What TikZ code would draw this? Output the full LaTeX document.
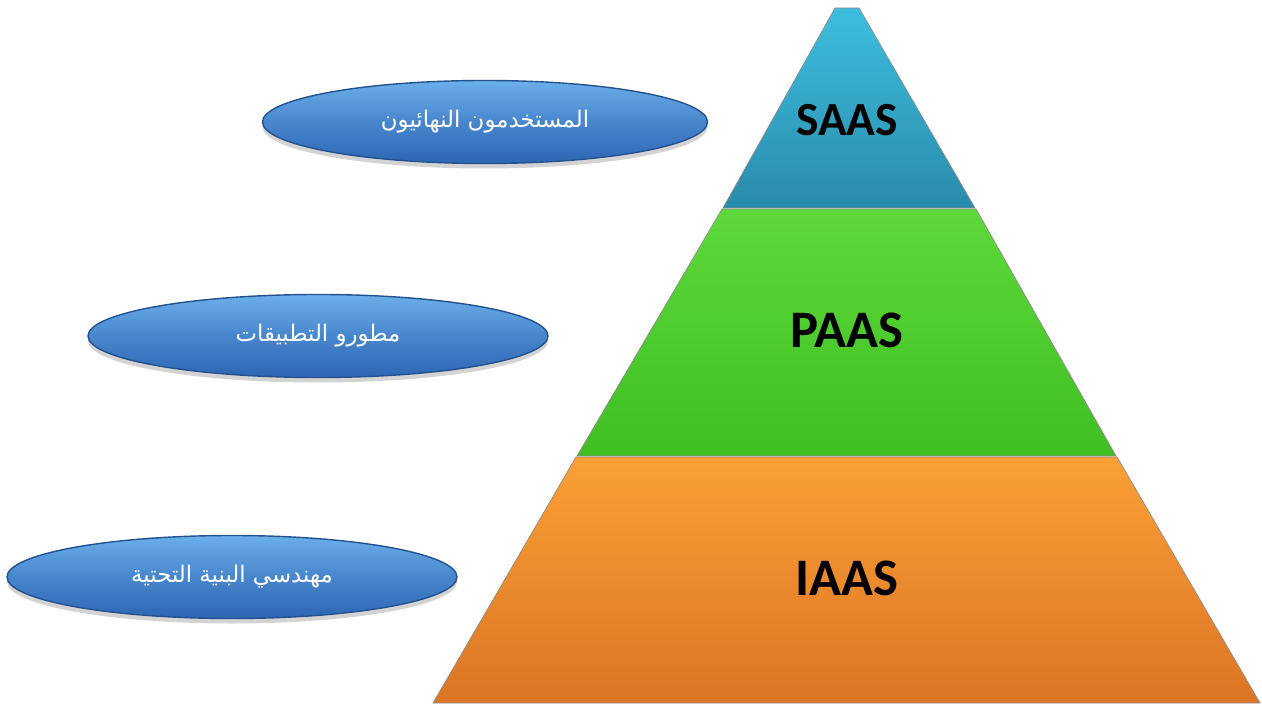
\documentclass[tikz,border=0pt]{standalone}
\usepackage{fontspec}
\setmainfont{Carlito}
\newfontfamily\arabicfont[Script=Arabic]{DejaVu Sans}
\TeXXeTstate=1
\usetikzlibrary{shapes.geometric, shadows}

\definecolor{saasTop}{HTML}{3DBEDF}
\definecolor{saasBot}{HTML}{2A8BAA}
\definecolor{paasTop}{HTML}{5ED83A}
\definecolor{paasBot}{HTML}{3FBF22}
\definecolor{iaasTop}{HTML}{FBA036}
\definecolor{iaasBot}{HTML}{DC7424}
\definecolor{roleTop}{HTML}{6AAEEA}
\definecolor{roleBot}{HTML}{2D66B4}

\tikzset{
  role/.style={ellipse, draw=roleBot!80!black, thin, top color=roleTop, bottom color=roleBot,
    middle color=roleBot!55!roleTop, minimum width=#1, minimum height=0.83cm, inner sep=0pt,
    text=white, font=\arabicfont\fontsize{6.5}{8}\selectfont,
    drop shadow={shadow xshift=0pt, shadow yshift=-0.05cm, opacity=0.35}},
  tier/.style={draw=black!45, very thin},
  tiertext/.style={font=\bfseries\fontsize{#1}{#1}\selectfont, text=black}
}

\begin{document}
\begin{tikzpicture}[x=1cm, y=1cm]

    \useasboundingbox (0,0) rectangle (12.62,-7.08);

    % top tier of the pyramid:
    \shade[tier, top color=saasTop, bottom color=saasBot] (8.35,-0.08) -- (8.59,-0.08) -- (9.75,-2.08) -- (7.23,-2.08) -- cycle;
    % middle tier:
    \shade[tier, top color=paasTop, bottom color=paasBot] (7.22,-2.09) -- (9.76,-2.09) -- (11.16,-4.56) -- (5.77,-4.56) -- cycle;
    % bottom tier:
    \shade[tier, top color=iaasTop, bottom color=iaasBot] (5.76,-4.57) -- (11.17,-4.57) -- (12.60,-7.03) -- (4.33,-7.03) -- cycle;

    \node[tiertext=13.5] (saas) at (8.47,-1.20) {SAAS};
    \node[tiertext=15] (paas) at (8.47,-3.30) {PAAS};
    \node[tiertext=15] (iaas) at (8.47,-5.78) {IAAS};

    % the users on the left side:
    \node[role=4.45cm] (users) at (4.85,-1.22) {\beginR المستخدمون النهائيون\endR};
    \node[role=4.60cm] (devs) at (3.18,-3.36) {\beginR مطورو التطبيقات\endR};
    \node[role=4.50cm] (infra) at (2.32,-5.77) {\beginR مهندسي البنية التحتية\endR};

\end{tikzpicture}
\end{document}
